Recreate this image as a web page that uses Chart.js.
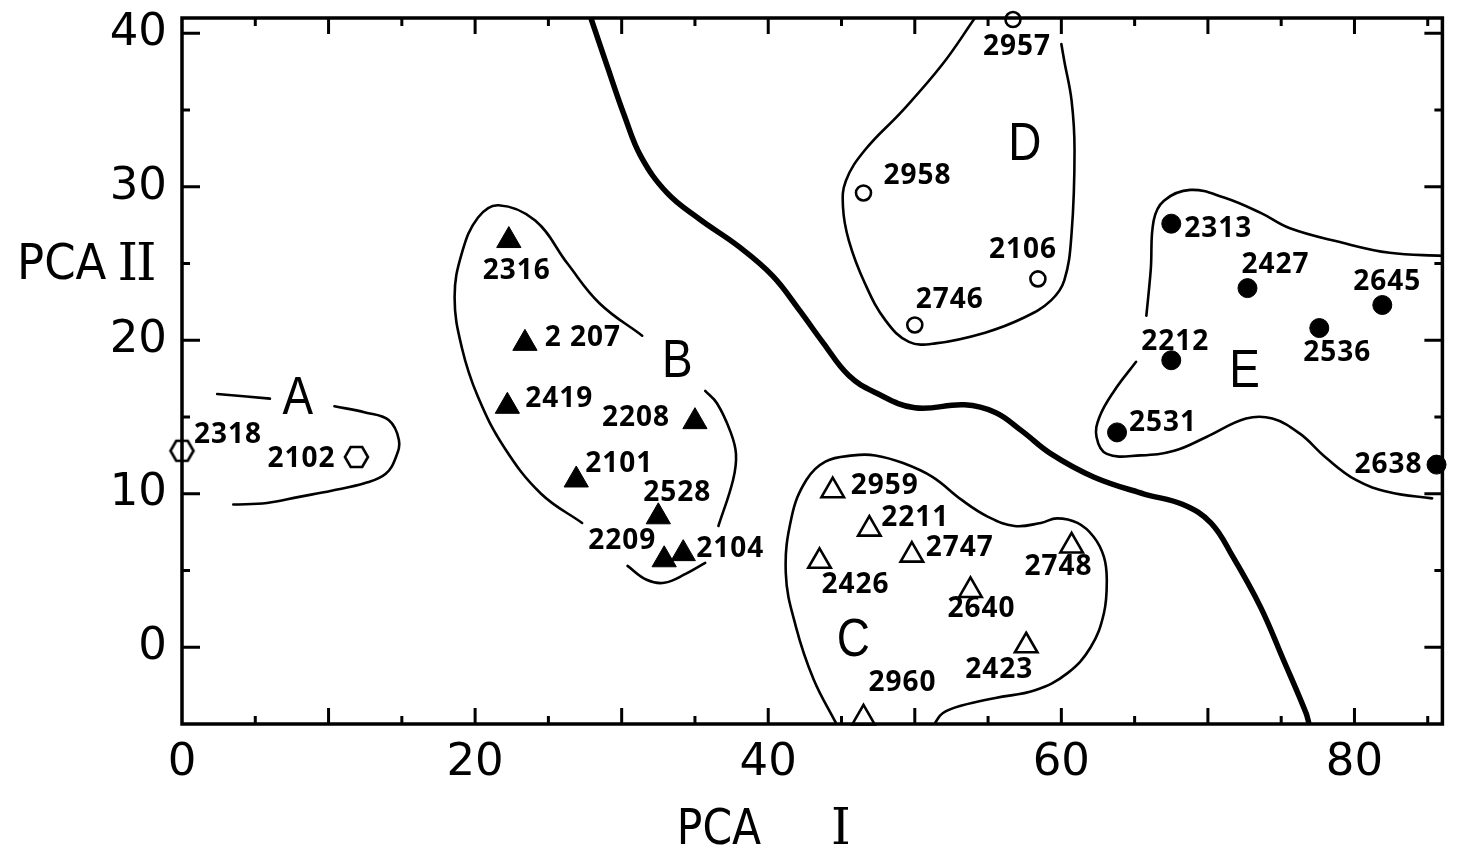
<!DOCTYPE html>
<html>
<head>
<meta charset="utf-8">
<script src="https://cdn.jsdelivr.net/npm/chart.js@4.4.1/dist/chart.umd.min.js"></script>
<style>
  html, body { margin: 0; padding: 0; background: #fff; overflow: hidden; }
  #pca { display: block; width: 1458px; height: 857px; }
</style>
</head>
<body>
<canvas id="pca" width="1458" height="857"></canvas>
<script>
// ---- Sample scores on the first two principal components ----
// Group A (open hexagons)
const groupA_ids = ['2318', '2102'];
const groupA_x   = [0.0, 11.9];
const groupA_y   = [12.8, 12.4];

// Group B (filled triangles)
const groupB_ids = ['2316', '2 207', '2419', '2208', '2101', '2528', '2209', '2104'];
const groupB_x   = [22.3, 23.4, 22.2, 35.0, 26.9, 32.5, 32.9, 34.2];
const groupB_y   = [26.5, 19.8, 15.7, 14.7, 10.9, 8.5, 5.7, 6.1];

// Group C (open triangles)
const groupC_ids = ['2959', '2211', '2426', '2747', '2640', '2748', '2423', '2960'];
const groupC_x   = [44.4, 46.9, 43.5, 49.8, 53.8, 60.7, 57.6, 46.5];
const groupC_y   = [10.2, 7.7, 5.6, 6.0, 3.7, 6.6, 0.1, -4.6];

// Group D (open circles)
const groupD_ids = ['2957', '2958', '2106', '2746'];
const groupD_x   = [56.7, 46.5, 58.4, 50.0];
const groupD_y   = [40.9, 29.6, 24.0, 21.0];

// Group E (filled circles)
const groupE_ids = ['2313', '2427', '2645', '2536', '2212', '2531', '2638'];
const groupE_x   = [67.5, 72.7, 81.9, 77.6, 67.5, 63.8, 85.6];
const groupE_y   = [27.6, 23.4, 22.3, 20.8, 18.7, 14.0, 11.9];

// Cluster names and where they sit in PCA space
const clusterNames = ['A', 'B', 'C', 'D', 'E'];
const clusterNameX = [7.9, 33.8, 45.8, 57.5, 72.5];
const clusterNameY = [16.2, 18.6, 0.4, 32.7, 17.9];

// Hand-drawn cluster boundaries (PCA I, PCA II)
const outlineA1 = [[2.4, 16.5], [6.0, 16.2]];
const outlineA2 = [[10.4, 15.7], [12.5, 15.3], [14.1, 14.8], [14.8, 13.5], [14.6, 12.4], [13.9, 11.3],
                   [12.5, 10.7], [10.2, 10.2], [8.0, 9.8], [5.8, 9.4], [3.5, 9.3]];
const outlineB1 = [[31.4, 20.3], [28.5, 22.4], [26.3, 25.0], [24.1, 27.8], [21.6, 28.8], [20.2, 28.0],
                   [19.1, 25.7], [18.6, 22.8], [19.1, 19.5], [20.2, 16.3], [22.0, 13.0], [24.5, 10.0], [27.3, 8.1]];
const outlineB2 = [[30.4, 5.3], [31.7, 4.4], [32.9, 4.2], [34.4, 4.8], [35.7, 5.5]];
const outlineB3 = [[36.6, 7.9], [37.6, 10.9], [37.8, 12.6], [37.4, 14.1], [36.5, 15.9], [35.7, 16.7]];
const outlineC  = [[44.6, -4.9], [43.1, -2.1], [41.9, 1.3], [41.2, 4.8], [41.6, 8.5], [42.6, 10.9],
                   [43.9, 12.1], [45.8, 12.5], [47.3, 12.5], [49.2, 12.0], [51.2, 11.1], [53.2, 9.6],
                   [55.0, 8.5], [56.8, 7.9], [58.6, 8.1], [59.7, 8.4], [61.1, 8.1], [62.2, 7.2],
                   [62.9, 5.9], [63.1, 4.4], [62.9, 2.2], [62.0, 0.0], [60.4, -1.7], [58.2, -2.8],
                   [55.5, -3.3], [53.2, -3.8], [51.9, -4.3], [51.4, -4.9]];
const outlineD  = [[54.1, 41.0], [51.9, 38.0], [49.2, 35.0], [46.6, 32.4], [45.3, 30.4], [45.1, 28.7],
                   [45.5, 26.5], [46.6, 23.7], [48.0, 21.3], [49.6, 19.9], [51.4, 19.8], [54.8, 20.5],
                   [57.5, 21.5], [59.3, 22.6], [60.2, 23.9], [60.7, 27.0], [60.9, 32.4], [60.7, 35.6],
                   [60.2, 38.2], [60.0, 39.3]];
const outlineE1 = [[65.8, 21.6], [66.1, 24.6], [66.3, 27.8], [67.0, 29.1], [68.8, 29.8], [71.1, 29.3],
                   [73.6, 28.3], [75.6, 27.3], [79.0, 26.4], [82.4, 25.7], [86.0, 25.5]];
const outlineE2 = [[65.1, 18.6], [63.6, 16.7], [62.6, 15.0], [62.4, 13.7], [63.1, 12.6], [65.4, 12.5],
                   [67.7, 12.8], [69.9, 13.7], [72.6, 14.9], [74.4, 14.9], [76.3, 13.9], [78.0, 12.4],
                   [80.1, 10.9], [82.4, 10.1], [85.3, 9.7]];

// Heavy dividing curve
const dividerLine = [[27.9, 41.0], [29.0, 37.9], [30.2, 34.6], [31.3, 32.0], [33.1, 29.6], [35.3, 27.9],
                     [38.0, 26.1], [40.3, 24.2], [42.1, 22.0], [43.7, 19.9], [45.5, 17.7], [47.3, 16.6],
                     [50.0, 15.6], [53.4, 15.8], [55.5, 15.3], [57.3, 14.1], [59.3, 12.6], [62.2, 11.1],
                     [65.6, 10.0], [68.3, 9.3], [70.2, 8.1], [71.7, 5.9], [73.6, 2.6], [75.1, -0.7],
                     [76.7, -4.3], [76.9, -5.0]];

// Axis ticks
const xTickLabels = [0, 20, 40, 60, 80];
const yTickLabels = [0, 10, 20, 30, 40];
const xTickMarks  = [5, 10, 15, 20, 25, 30, 35, 40, 45, 50, 55, 60, 65, 70, 75, 80, 85];
const yTickMarks  = [0, 5, 10, 15, 20, 25, 30, 35, 40];

// ---- Label placement (pixel offset of each sample ID from its marker) ----
const labelOffsetA = [[46, -16], [-55, 2]];
const labelOffsetB = [[8, 30], [58, -5], [52, -7], [-59, -4], [43, -16], [19, -24], [-42, -19], [47, -5]];
const labelOffsetC = [[52, -5], [46, -11], [36, 24], [48, -7], [11, 19], [-13, 21], [-27, 24], [39, -35]];
const labelOffsetD = [[4, 27], [54, -17], [-15, -29], [35, -25]];
const labelOffsetE = [[47, 5], [28, -23], [5, -23], [18, 25], [4, -18], [46, -9], [-48, 0]];

const zip = (xs, ys) => xs.map((v, i) => ({ x: v, y: ys[i] }));
const pairs = arr => arr.map(p => ({ x: p[0], y: p[1] }));

// Open hexagon marker
function hexagonMarker(r, lw) {
  const c = document.createElement('canvas');
  const w = Math.ceil(2 * r + lw * 2), h = Math.ceil(Math.sqrt(3) * r + lw * 2);
  c.width = w; c.height = h;
  const g = c.getContext('2d');
  g.translate(w / 2, h / 2);
  g.beginPath();
  for (let k = 0; k < 6; k++) {
    const a = k * Math.PI / 3;
    const px = r * Math.cos(a), py = r * Math.sin(a);
    k === 0 ? g.moveTo(px, py) : g.lineTo(px, py);
  }
  g.closePath();
  g.lineWidth = lw; g.strokeStyle = '#000';
  g.stroke();
  return c;
}

function pointSet(label, ids, xs, ys, offsets, style) {
  return Object.assign({
    type: 'scatter', label, data: zip(xs, ys), ids, offsets,
    clip: false, showLine: false, pointHoverRadius: 0
  }, style);
}

function curve(label, pts, width) {
  return {
    type: 'line', label, data: pairs(pts), showLine: true, tension: 0.4,
    borderColor: '#000', borderWidth: width, pointRadius: 0, pointHoverRadius: 0,
    fill: false, borderCapStyle: 'round', borderJoinStyle: 'round'
  };
}

const datasets = [
  pointSet('A', groupA_ids, groupA_x, groupA_y, labelOffsetA,
    { pointStyle: hexagonMarker(11.5, 2.6), pointRadius: 12 }),
  pointSet('B', groupB_ids, groupB_x, groupB_y, labelOffsetB,
    { pointStyle: 'triangle', pointRadius: 14, backgroundColor: '#000', borderColor: '#000', borderWidth: 1 }),
  pointSet('C', groupC_ids, groupC_x, groupC_y, labelOffsetC,
    { pointStyle: 'triangle', pointRadius: 13, backgroundColor: 'rgba(0,0,0,0)', borderColor: '#000', borderWidth: 2.6 }),
  pointSet('D', groupD_ids, groupD_x, groupD_y, labelOffsetD,
    { pointStyle: 'circle', pointRadius: 7.5, backgroundColor: 'rgba(0,0,0,0)', borderColor: '#000', borderWidth: 2.6 }),
  pointSet('E', groupE_ids, groupE_x, groupE_y, labelOffsetE,
    { pointStyle: 'circle', pointRadius: 9.5, backgroundColor: '#000', borderColor: '#000', borderWidth: 1 }),
  curve('divider', dividerLine, 5.5),
  curve('A1', outlineA1, 2.6), curve('A2', outlineA2, 2.6),
  curve('B1', outlineB1, 2.6), curve('B2', outlineB2, 2.6), curve('B3', outlineB3, 2.6),
  curve('C', outlineC, 2.6), curve('D', outlineD, 2.6),
  curve('E1', outlineE1, 2.6), curve('E2', outlineE2, 2.6)
];

function drawScaledText(ctx, text, x, y, font, sx, align, spacing) {
  ctx.save();
  ctx.translate(x, y);
  ctx.scale(sx, 1);
  ctx.font = font;
  ctx.letterSpacing = spacing || '0px';
  ctx.textAlign = align || 'center';
  ctx.textBaseline = 'middle';
  ctx.fillText(text, 0, 0);
  ctx.restore();
}

// Frame with inward tick marks on all four sides
const framePlugin = {
  id: 'frame',
  beforeDatasetsDraw(chart) {
    const { ctx, chartArea: a, scales: { x, y } } = chart;
    ctx.save();
    ctx.strokeStyle = '#000';
    ctx.lineWidth = 3.5;
    ctx.strokeRect(a.left, a.top, a.right - a.left, a.bottom - a.top);
    ctx.lineWidth = 3;
    ctx.beginPath();
    xTickMarks.forEach(v => {
      const p = x.getPixelForValue(v);
      const len = v % 10 === 0 ? 16 : 8;
      ctx.moveTo(p, a.bottom); ctx.lineTo(p, a.bottom - len);
      ctx.moveTo(p, a.top); ctx.lineTo(p, a.top + len);
    });
    yTickMarks.forEach(v => {
      const p = y.getPixelForValue(v);
      const len = v % 10 === 0 ? 18 : 8;
      ctx.moveTo(a.left, p); ctx.lineTo(a.left + len, p);
      ctx.moveTo(a.right, p); ctx.lineTo(a.right - len, p);
    });
    ctx.stroke();
    ctx.restore();
  },
  afterDatasetsDraw(chart) {
    const { ctx, chartArea: a, scales: { x, y } } = chart;
    ctx.save();
    ctx.fillStyle = '#000';
    // Sample IDs next to their markers
    chart.data.datasets.forEach((ds, i) => {
      if (!ds.ids) return;
      const meta = chart.getDatasetMeta(i);
      meta.data.forEach((pt, j) => {
        const off = ds.offsets[j];
        drawScaledText(ctx, ds.ids[j], pt.x + off[0], pt.y + off[1], '700 28px "Open Sans"', 1, 'center', '1px');
      });
    });
    // Cluster letters
    clusterNames.forEach((n, i) => {
      drawScaledText(ctx, n, x.getPixelForValue(clusterNameX[i]), y.getPixelForValue(clusterNameY[i]),
        '400 54px "Liberation Sans"', 0.85);
    });
    // Axis titles
    drawScaledText(ctx, 'PCA', a.left - 165, 266, '400 50px "DejaVu Sans"', 0.9, 'left');
    drawScaledText(ctx, 'II', a.left - 46, 266, '400 52px "DejaVu Serif"', 1, 'center', '-2px');
    drawScaledText(ctx, 'PCA', 719, 831, '400 50px "DejaVu Sans"', 0.85, 'center');
    drawScaledText(ctx, 'I', 841, 831, '400 50px "DejaVu Serif"', 1, 'center');
    ctx.restore();
  }
};

const tickFont = { family: '"DejaVu Sans"', size: 45, weight: '400' };

new Chart(document.getElementById('pca'), {
  type: 'scatter',
  data: { datasets },
  options: {
    responsive: false,
    maintainAspectRatio: false,
    devicePixelRatio: 1,
    animation: false,
    events: [],
    layout: { padding: { top: 18, right: 8, left: 0, bottom: 0 } },
    plugins: { legend: { display: false }, tooltip: { enabled: false } },
    scales: {
      x: {
        type: 'linear', min: 0, max: 86,
        grid: { display: false, drawTicks: false },
        border: { display: false },
        afterBuildTicks: s => { s.ticks = xTickLabels.map(v => ({ value: v })); },
        afterFit: s => { s.height = 133; s.paddingLeft = 0; s.paddingRight = 0; },
        ticks: { font: tickFont, color: '#000', padding: 12, maxRotation: 0, autoSkip: false }
      },
      y: {
        type: 'linear', min: -5, max: 41,
        grid: { display: false, drawTicks: false },
        border: { display: false },
        afterBuildTicks: s => { s.ticks = yTickLabels.map(v => ({ value: v })); },
        afterFit: s => { s.width = 182; s.paddingTop = 0; s.paddingBottom = 0; },
        ticks: { font: tickFont, color: '#000', padding: 15, autoSkip: false }
      }
    }
  },
  plugins: [framePlugin]
});
</script>
</body>
</html>
